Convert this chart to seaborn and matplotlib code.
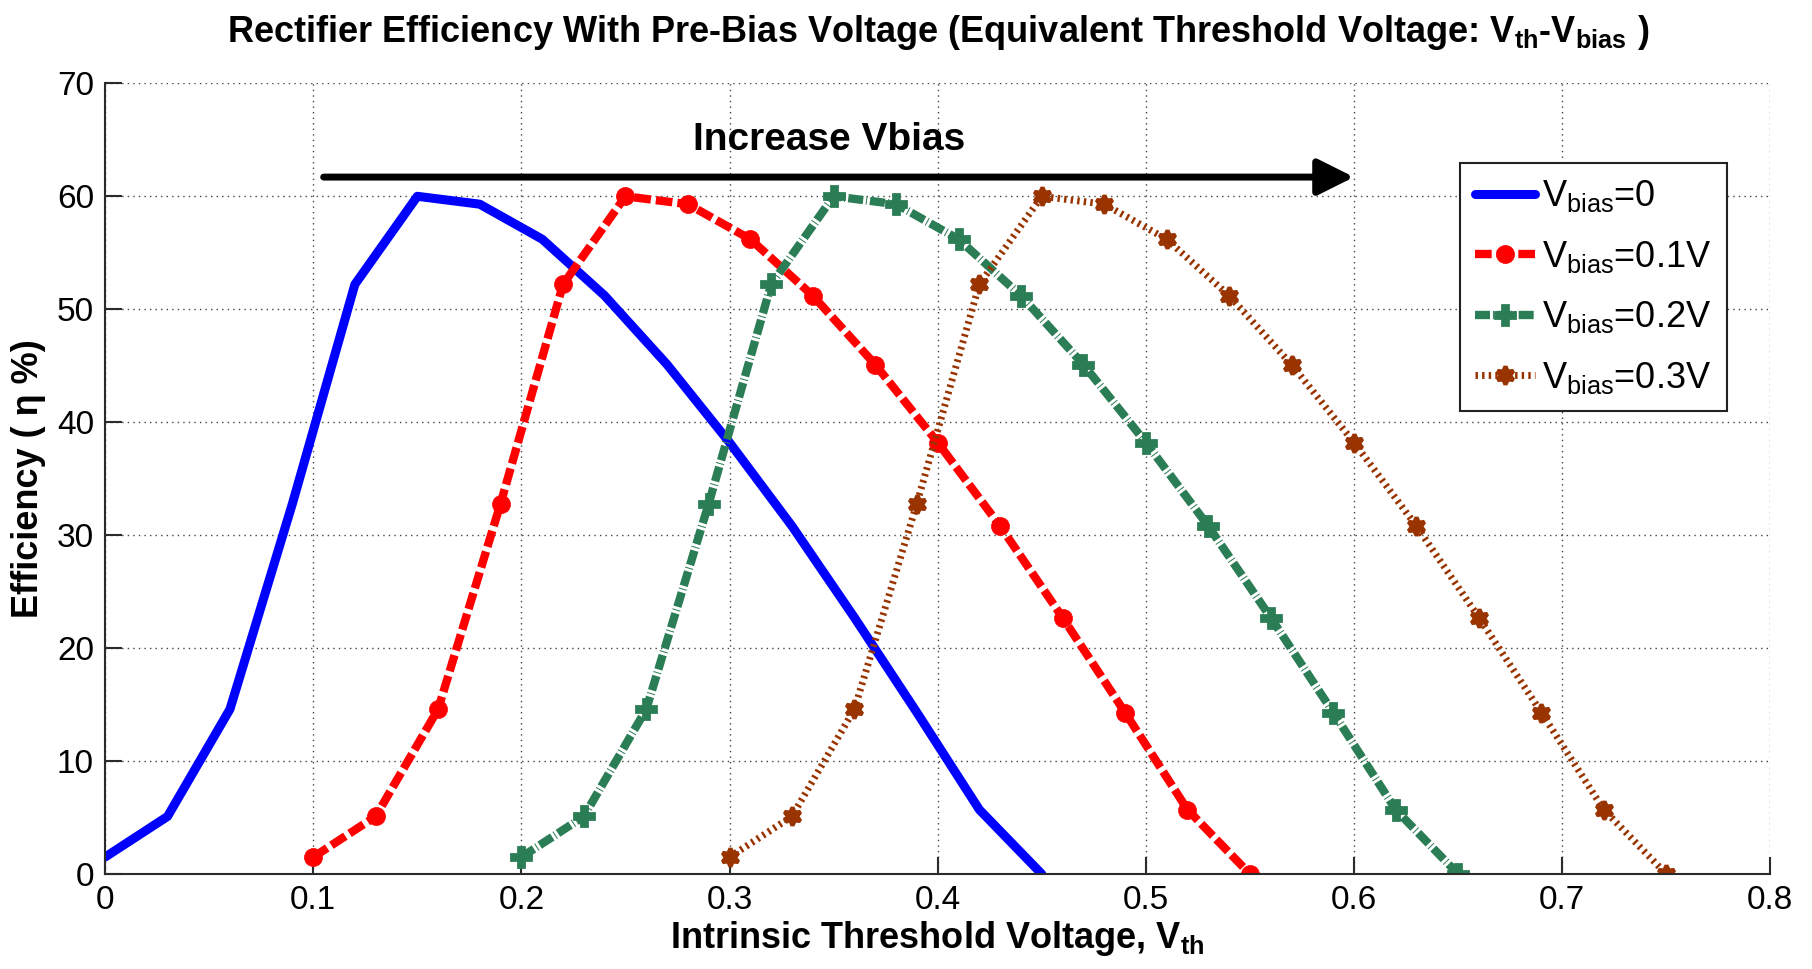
import matplotlib
matplotlib.use("Agg")
import matplotlib.pyplot as plt
import seaborn as sns
import pandas as pd
from matplotlib.lines import Line2D

# Threshold voltage sweep (V) for each pre-bias setting
vth_bias0 = [0.00, 0.03, 0.06, 0.09, 0.12, 0.15, 0.18, 0.21, 0.24, 0.27, 0.30, 0.33, 0.36, 0.39, 0.42, 0.45]
vth_bias1 = [0.10, 0.13, 0.16, 0.19, 0.22, 0.25, 0.28, 0.31, 0.34, 0.37, 0.40, 0.43, 0.46, 0.49, 0.52, 0.55]
vth_bias2 = [0.20, 0.23, 0.26, 0.29, 0.32, 0.35, 0.38, 0.41, 0.44, 0.47, 0.50, 0.53, 0.56, 0.59, 0.62, 0.65]
vth_bias3 = [0.30, 0.33, 0.36, 0.39, 0.42, 0.45, 0.48, 0.51, 0.54, 0.57, 0.60, 0.63, 0.66, 0.69, 0.72, 0.75]

# Rectifier efficiency (%) at each sweep point
eff_bias0 = [1.5, 5.1, 14.6, 32.8, 52.2, 60.0, 59.3, 56.2, 51.2, 45.1, 38.2, 30.8, 22.7, 14.3, 5.7, 0.0]
eff_bias1 = [1.5, 5.1, 14.6, 32.8, 52.2, 60.0, 59.3, 56.2, 51.2, 45.1, 38.2, 30.8, 22.7, 14.3, 5.7, 0.0]
eff_bias2 = [1.5, 5.1, 14.6, 32.8, 52.2, 60.0, 59.3, 56.2, 51.2, 45.1, 38.2, 30.8, 22.7, 14.3, 5.7, 0.0]
eff_bias3 = [1.5, 5.1, 14.6, 32.8, 52.2, 60.0, 59.3, 56.2, 51.2, 45.1, 38.2, 30.8, 22.7, 14.3, 5.7, 0.0]

series_labels = [r"V$_{\mathrm{bias}}$=0", r"V$_{\mathrm{bias}}$=0.1V",
                 r"V$_{\mathrm{bias}}$=0.2V", r"V$_{\mathrm{bias}}$=0.3V"]
x_ticks = [0, 0.1, 0.2, 0.3, 0.4, 0.5, 0.6, 0.7, 0.8]
x_tick_labels = ["0", "0.1", "0.2", "0.3", "0.4", "0.5", "0.6", "0.7", "0.8"]
y_ticks = [0, 10, 20, 30, 40, 50, 60, 70]

sns.set_theme(style="white")
plt.rcParams["font.family"] = ["Liberation Sans", "DejaVu Sans"]
plt.rcParams["mathtext.fontset"] = "custom"
plt.rcParams["mathtext.rm"] = "Liberation Sans"
plt.rcParams["mathtext.bf"] = "Liberation Sans:bold"
plt.rcParams["mathtext.it"] = "Liberation Sans:italic"
plt.rcParams["text.color"] = "black"
plt.rcParams["axes.labelcolor"] = "black"

fig = plt.figure(figsize=(18.12, 9.69), dpi=100)
ax = fig.add_axes([0.058, 0.098, 0.919, 0.816])

GREEN = "#2B7D55"
BROWN = "#993300"

styles = [
    dict(color="#0000FF", linestyle="-", linewidth=6.5, marker=None),
    dict(color="#FF0000", linestyle=(0, (2.0, 0.6)), linewidth=6.0, marker="o",
         markersize=13, mew=0.5),
    dict(color=GREEN, linestyle=(0, (1.8, 0.35, 0.12, 0.35)), linewidth=6.0,
         marker="P", markersize=14, mew=2.0),
    dict(color=BROWN, linestyle=(0, (0.35, 0.6)), linewidth=5.0,
         marker=(6, 1, 0), markersize=13, mew=3.0),
]
xs = [vth_bias0, vth_bias1, vth_bias2, vth_bias3]
ys = [eff_bias0, eff_bias1, eff_bias2, eff_bias3]

for x, y, lab, st in zip(xs, ys, series_labels, styles):
    df = pd.DataFrame({"vth": x, "eff": y})
    kw = dict(color=st["color"], linestyle=st["linestyle"], linewidth=st["linewidth"])
    if st["marker"] is not None:
        kw.update(marker=st["marker"], markersize=st["markersize"],
                  markerfacecolor=st["color"], markeredgecolor=st["color"],
                  markeredgewidth=st["mew"])
    sns.lineplot(data=df, x="vth", y="eff", ax=ax, sort=False, estimator=None,
                 label=lab, legend=False, **kw)

ax.set_xlim(0, 0.8)
ax.set_ylim(0, 70)
ax.set_xticks(x_ticks)
ax.set_xticklabels(x_tick_labels)
ax.set_yticks(y_ticks)
ax.grid(True, linestyle=(0, (1, 3)), color="#444444", linewidth=1.0)
ax.set_axisbelow(True)
for side in ["top", "right"]:
    ax.spines[side].set_visible(False)
for side in ["left", "bottom"]:
    ax.spines[side].set_color("#2b2b2b")
    ax.spines[side].set_linewidth(1.5)
ax.tick_params(axis="both", direction="in", length=12, width=1.5, color="#2b2b2b",
               labelsize=24, pad=8, bottom=True, left=True, labelcolor="black")

ax.set_title(r"Rectifier Efficiency With Pre-Bias Voltage (Equivalent Threshold Voltage: V$_{\mathbf{th}}$-V$_{\mathbf{bias}}$ )",
             fontsize=26, fontweight="bold", pad=30, color="black")
ax.set_xlabel(r"Intrinsic Threshold Voltage, V$_{\mathbf{th}}$", fontsize=26,
              fontweight="bold", labelpad=2)
ax.set_ylabel("Efficiency ( η %)", fontsize=26, fontweight="bold", labelpad=8)

# Arrow indicating the shift direction of the curves
ax.annotate("", xy=(0.6, 61.7), xytext=(0.105, 61.7),
            arrowprops=dict(arrowstyle="-|>,head_length=1.0,head_width=0.5",
                            lw=5, color="black", mutation_scale=22,
                            shrinkA=0, shrinkB=0))
ax.text(0.348, 65.0, "Increase Vbias", fontsize=28, fontweight="bold",
        ha="center", va="center")

handles = [Line2D([], [], color=st["color"], linestyle=st["linestyle"],
                  linewidth=st["linewidth"], marker=st["marker"],
                  markersize=st.get("markersize", 0),
                  markeredgewidth=st.get("mew", 0),
                  markerfacecolor=st["color"], markeredgecolor=st["color"])
           for st in styles]
leg = ax.legend(handles, series_labels, loc="upper left",
                bbox_to_anchor=(0.803, 0.922), fontsize=26, frameon=True,
                fancybox=False, handlelength=1.65, handletextpad=0.2,
                labelspacing=0.68, borderpad=0.42, numpoints=1)
leg.get_frame().set_edgecolor("#222222")
leg.get_frame().set_linewidth(1.5)
leg.get_frame().set_alpha(1.0)

fig.savefig("out.png", dpi=100)
